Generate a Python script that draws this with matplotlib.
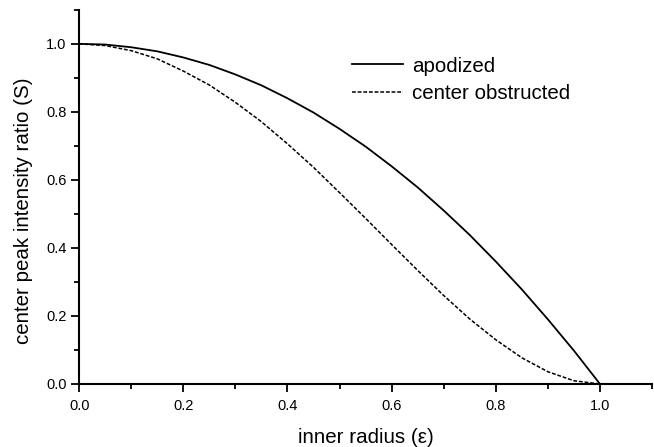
import matplotlib
matplotlib.use("Agg")
from matplotlib import pyplot as plt
from matplotlib.ticker import MultipleLocator

plt.rcParams['font.family'] = ['Liberation Sans', 'DejaVu Sans']

eps = [0.0, 0.05, 0.1, 0.15, 0.2, 0.25, 0.3, 0.35, 0.4, 0.45, 0.5,
       0.55, 0.6, 0.65, 0.7, 0.75, 0.8, 0.85, 0.9, 0.95, 1.0]
apodized = [1.0, 0.998, 0.99, 0.978, 0.96, 0.938, 0.91, 0.878, 0.84, 0.798, 0.75,
            0.698, 0.64, 0.578, 0.51, 0.438, 0.36, 0.278, 0.19, 0.098, 0.0]
obstructed = [1.0, 0.995, 0.98, 0.956, 0.92, 0.879, 0.828, 0.771, 0.706, 0.637, 0.5625,
              0.487, 0.41, 0.334, 0.26, 0.191, 0.13, 0.077, 0.036, 0.0095, 0.0]

fig = plt.figure(figsize=(6.54, 4.47), dpi=100)
ax = fig.add_axes([0.121, 0.141, 0.876, 0.837])

ax.plot(eps, apodized, '-', color='black', lw=1.3, label='apodized')
ax.plot(eps, obstructed, '--', color='black', lw=1.1, dashes=(2.5, 1.2), label='center obstructed')

ax.set_xlim(0, 1.1)
ax.set_ylim(0, 1.1)
ax.set_xticks([0.0, 0.2, 0.4, 0.6, 0.8, 1.0])
ax.set_yticks([0.0, 0.2, 0.4, 0.6, 0.8, 1.0])
ax.xaxis.set_minor_locator(MultipleLocator(0.1))
ax.yaxis.set_minor_locator(MultipleLocator(0.1))
ax.tick_params(which='major', direction='out', length=6, width=1.3, labelsize=10.5)
ax.tick_params(axis='x', which='major', pad=5)
ax.tick_params(axis='y', which='major', pad=3)
ax.tick_params(which='minor', direction='out', length=3.5, width=1.3)

for side in ['top', 'right']:
    ax.spines[side].set_visible(False)
for side in ['left', 'bottom']:
    ax.spines[side].set_linewidth(1.5)

ax.set_xlabel("inner radius (\u03b5)", fontsize=14.8)
ax.set_ylabel("center peak intensity ratio (S)", fontsize=14.8)
ax.xaxis.set_label_coords(0.5, -0.118)
ax.yaxis.set_label_coords(-0.080, 0.4626)

ax.legend(loc='upper left', bbox_to_anchor=(0.476, 0.875), frameon=False, fontsize=14.8,
          handlelength=2.5, handletextpad=0.45, labelspacing=0.4,
          borderpad=0, borderaxespad=0)

plt.savefig('out.png', dpi=100)
